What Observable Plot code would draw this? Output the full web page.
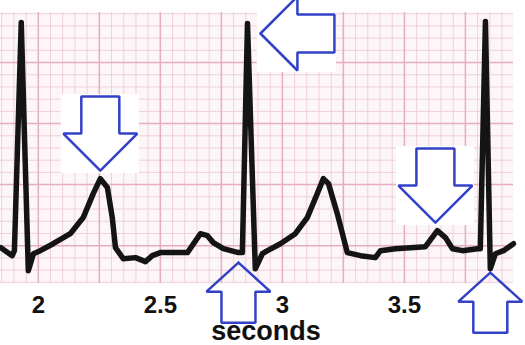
<!DOCTYPE html>
<html><head><meta charset="utf-8">
<script src="https://cdn.jsdelivr.net/npm/d3@7"></script>
<script src="https://cdn.jsdelivr.net/npm/@observablehq/plot@0.6"></script>
<style>
html,body{margin:0;padding:0;background:#fff;}
#chart svg{display:block;}
</style></head><body><div id="chart"></div>
<script>
// ECG trace: time (s) and amplitude (mV)
const time = [1.845,1.893,1.902,1.930,1.959,1.980,2.008,2.061,2.131,2.184,2.225,2.254,2.283,2.303,2.316,2.348,2.398,2.439,2.467,2.500,2.611,2.664,2.693,2.717,2.758,2.820,2.836,2.857,2.889,2.918,2.939,2.992,3.053,3.102,3.143,3.168,3.189,3.225,3.266,3.320,3.381,3.402,3.463,3.586,3.635,3.668,3.697,3.738,3.799,3.811,3.832,3.852,3.873,3.906,3.947];
const mv = [-0.016,-0.082,-0.041,1.828,-0.205,-0.066,-0.041,0.016,0.098,0.230,0.426,0.549,0.475,0.230,-0.016,-0.107,-0.098,-0.131,-0.082,-0.057,-0.057,0.098,0.082,0.025,-0.025,-0.057,-0.057,1.820,-0.189,-0.066,-0.041,0.016,0.098,0.230,0.426,0.549,0.508,0.262,-0.057,-0.082,-0.098,-0.041,-0.025,-0.008,0.123,0.066,-0.025,-0.041,-0.025,-0.025,1.836,-0.189,-0.066,-0.041,0.016];

// x axis
const xTicks = [2, 2.5, 3, 3.5];
const xTickLabels = ["2", "2.5", "3", "3.5"];
const xLabel = "seconds";

// annotation arrows: tip time, tip amplitude, pointing direction, white backing box
const arrowT = [2.254, 2.910, 2.820, 3.627, 3.852];
const arrowV = [0.615, 1.738, -0.139, 0.189, -0.221];
const arrowDir = ["down", "left", "up", "down", "up"];
const arrowBoxed = [true, true, false, true, false];

// ---- layout / style ----
const W = 525, H = 345;
const mL = 0, mR = 12, mT = 12, mB = 62;
const xDomain = [1.845, 3.947], yDomain = [-0.31, 1.91];
const kx = (W - mL - mR) / (xDomain[1] - xDomain[0]);
const ky = (H - mT - mB) / (yDomain[1] - yDomain[0]);
const BIG = {head: 37, wing: 37, shaft: 19, len: 37};
const SMALL = {head: 29, wing: 32, shaft: 17, len: 31};
const BLUE = "#3341c8";

const ecg = time.map((t, i) => ({t, v: mv[i]}));
const minorX = d3.range(37, 79).map(i => +(i * 0.05).toFixed(2));
const majorX = minorX.filter(d => Math.round(d * 100) % 25 === 0);
const minorY = d3.range(-3, 20).map(i => +(i * 0.1).toFixed(1));
const majorY = minorY.filter(d => Math.round(d * 10) % 5 === 0);

function orient(dir, along, across) {
  if (dir === "down") return [across, -along];
  if (dir === "up") return [across, along];
  if (dir === "left") return [along, across];
  return [-along, across];
}
const arrows = arrowT.map((t, i) => ({id: i, t, v: arrowV[i], dir: arrowDir[i], boxed: arrowBoxed[i]}));
const outline = [];
arrows.forEach(a => {
  const s = a.boxed ? BIG : SMALL;
  const pts = [[0,0],[s.head,s.wing],[s.head,s.shaft],[s.head+s.len,s.shaft],[s.head+s.len,-s.shaft],[s.head,-s.shaft],[s.head,-s.wing],[0,0]];
  pts.forEach(([al, ac]) => {
    const [dx, dy] = orient(a.dir, al, ac);
    outline.push({id: a.id, t: a.t + dx / kx, v: a.v - dy / ky});
  });
});
const boxes = arrows.filter(a => a.boxed).map(a => {
  const [ax, ay] = orient(a.dir, -3, -39);
  const [bx, by] = orient(a.dir, 76, 39);
  return {
    x1: a.t + Math.min(ax, bx) / kx, x2: a.t + Math.max(ax, bx) / kx,
    y1: a.v - Math.max(ay, by) / ky, y2: a.v - Math.min(ay, by) / ky
  };
});

const chart = Plot.plot({
  width: W, height: H,
  marginLeft: mL, marginRight: mR, marginTop: mT, marginBottom: mB,
  x: {domain: xDomain},
  y: {domain: yDomain, axis: null},
  style: {fontFamily: "'Liberation Sans', Arial, sans-serif", background: "#fff", color: "#111"},
  marks: [
    Plot.frame({fill: "#fdf6f8", stroke: null}),
    Plot.ruleX(minorX, {stroke: "#eed0d8", strokeWidth: 1}),
    Plot.ruleY(minorY, {stroke: "#eed0d8", strokeWidth: 1}),
    Plot.ruleX(majorX, {stroke: "#e6afbf", strokeWidth: 1.5}),
    Plot.ruleY(majorY, {stroke: "#e6afbf", strokeWidth: 1.5}),
    Plot.rect(boxes, {x1: "x1", x2: "x2", y1: "y1", y2: "y2", fill: "white"}),
    Plot.line(ecg, {x: "t", y: "v", stroke: "#141414", strokeWidth: 5.5, strokeLinejoin: "round", strokeLinecap: "round"}),
    Plot.line(outline, {x: "t", y: "v", z: "id", stroke: BLUE, strokeWidth: 2.5, strokeLinejoin: "miter"}),
    Plot.axisX(xTicks, {tickSize: 0, tickPadding: 12, fontSize: 24, fontWeight: "bold", label: null,
      tickFormat: d => xTickLabels[xTicks.indexOf(d)]}),
    Plot.text([xLabel], {frameAnchor: "bottom", dx: 9, dy: 48, fontSize: 27, fontWeight: "bold", lineAnchor: "middle", fill: "#111"})
  ]
});
document.getElementById("chart").appendChild(chart);
</script>
</body></html>
